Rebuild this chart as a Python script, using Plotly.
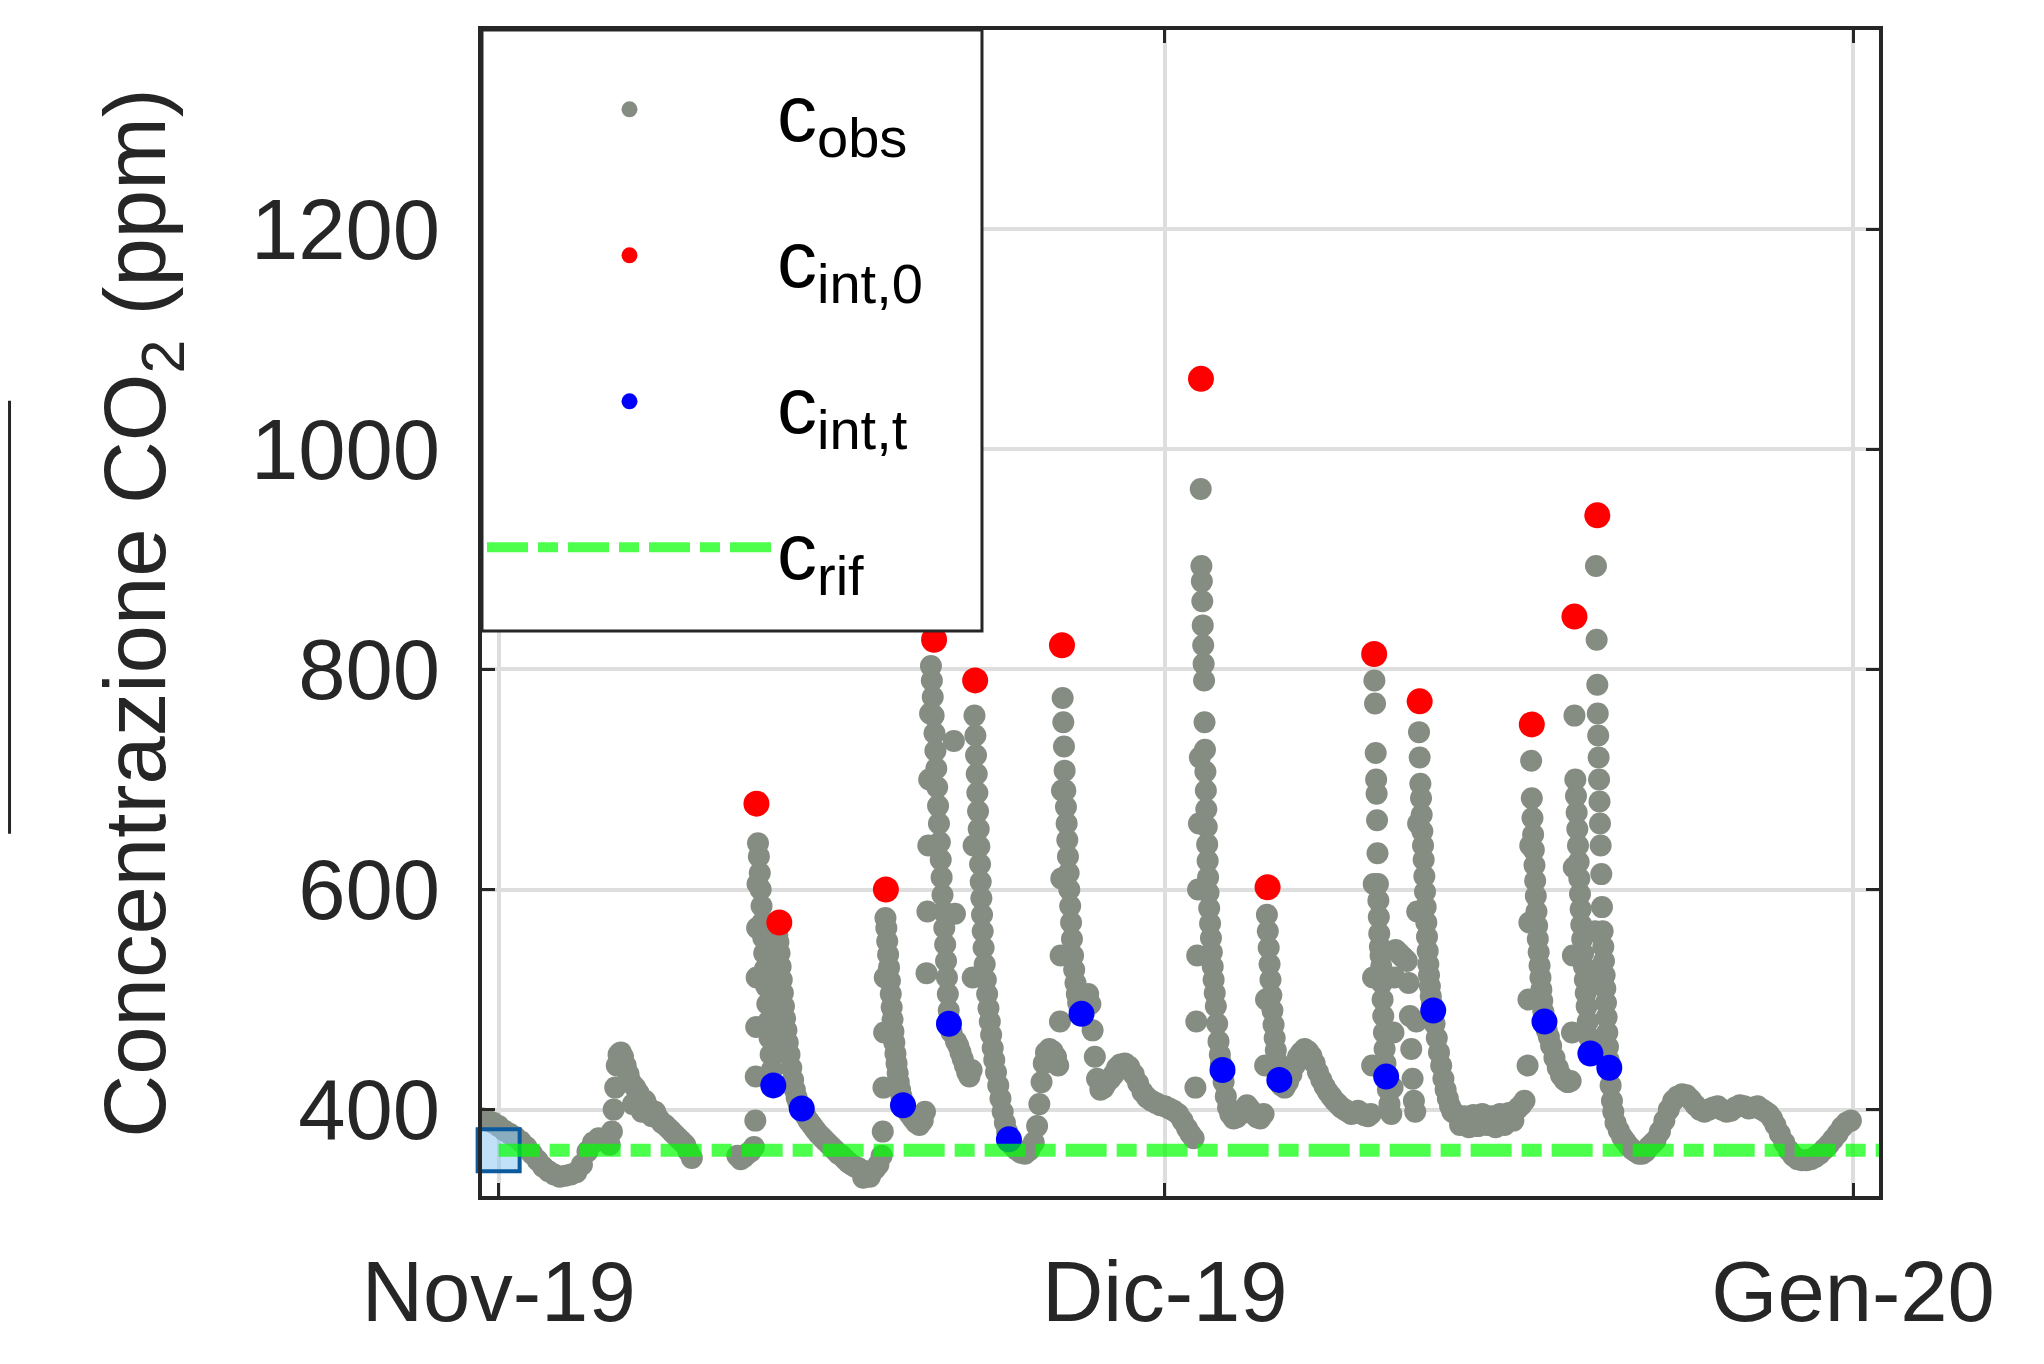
import pandas as pd
import plotly.graph_objects as go

# ---------------- data (days after 1 Nov 2019, ppm) ----------------
BASE_DATE = "2019-11-01"

obs_series = [
    (-0.7, 392), (-0.5, 390), (-0.25, 388), (0.0, 385), (0.25, 381), (0.5, 378), (0.75, 375), (1.0, 371),
    (1.25, 366), (1.5, 360), (1.75, 354), (2.0, 348), (2.25, 344), (2.5, 341), (2.75, 339), (3.0, 340),
    (3.25, 341), (3.5, 343), (3.75, 350), (4.0, 362), (4.25, 370), (4.5, 374), (4.75, 372), (5.0, 368),
    (5.1, 380), (5.18, 400), (5.25, 420), (5.32, 440), (5.4, 450), (5.5, 452), (5.6, 448), (5.72, 440),
    (5.85, 432), (5.95, 425), (6.05, 405), (6.15, 420), (6.3, 415), (6.45, 398), (6.6, 408), (6.75, 402),
    (6.9, 394), (7.05, 398), (7.2, 392), (7.35, 388), (7.5, 386), (7.65, 383), (7.8, 380), (7.95, 377),
    (8.1, 374), (8.25, 371), (8.4, 368), (8.55, 362), (8.7, 356),
    (10.75, 358), (10.9, 355), (11.05, 357), (11.2, 360), (11.35, 362), (11.5, 366),
    (11.56, 390), (11.58, 430), (11.6, 475), (11.62, 520), (11.64, 565), (11.66, 605), (11.68, 642),
    (11.72, 630), (11.76, 615), (11.8, 600), (11.84, 585), (11.88, 570), (11.92, 556), (11.96, 542),
    (12.0, 528), (12.05, 512), (12.1, 496), (12.15, 480), (12.2, 465), (12.25, 450), (12.3, 436), (12.36, 424),
    (12.42, 450), (12.46, 490), (12.5, 525), (12.55, 559), (12.6, 552), (12.65, 542), (12.7, 530), (12.75, 518),
    (12.8, 506), (12.85, 494), (12.9, 483), (12.96, 472), (13.02, 461), (13.1, 450), (13.18, 438), (13.26, 427),
    (13.34, 418), (13.42, 411), (13.5, 406), (13.58, 402), (13.66, 399),
    (13.8, 395), (13.95, 390), (14.1, 386), (14.25, 382), (14.4, 378), (14.55, 375), (14.7, 372), (14.85, 369),
    (15.0, 366), (15.15, 363), (15.3, 360), (15.45, 358), (15.6, 355), (15.75, 352), (15.9, 350), (16.05, 348),
    (16.2, 347), (16.35, 345), (16.42, 338), (16.5, 344), (16.65, 343), (16.72, 339), (16.8, 344), (16.95, 346),
    (17.1, 350), (17.25, 358),
    (17.3, 380), (17.33, 420), (17.36, 470), (17.39, 520), (17.42, 574), (17.46, 565), (17.5, 553), (17.54, 541),
    (17.58, 529), (17.62, 517), (17.66, 505), (17.7, 493), (17.74, 482), (17.78, 471), (17.82, 461), (17.87, 451),
    (17.92, 442), (17.97, 433), (18.02, 425), (18.08, 418), (18.14, 412), (18.2, 407), (18.25, 404),
    (18.35, 400), (18.5, 396), (18.65, 392), (18.8, 388), (18.95, 386), (19.1, 390), (19.2, 398),
    (19.27, 524), (19.31, 580), (19.35, 640), (19.39, 700), (19.43, 760), (19.47, 803), (19.51, 790), (19.55, 775),
    (19.59, 758), (19.63, 742), (19.67, 726), (19.71, 710), (19.75, 693), (19.79, 676), (19.83, 660), (19.87, 643),
    (19.91, 627), (19.95, 611), (19.99, 595), (20.03, 580), (20.07, 565), (20.11, 550), (20.15, 535), (20.19, 520),
    (20.23, 505), (20.27, 490), (20.31, 478),
    (20.4, 470), (20.5, 735), (20.55, 578), (20.6, 462), (20.7, 458), (20.8, 452), (20.9, 446), (21.0, 440),
    (21.1, 434), (21.2, 430), (21.3, 436),
    (21.35, 520), (21.39, 640), (21.43, 758), (21.47, 740), (21.5, 722), (21.53, 705), (21.56, 688), (21.59, 671),
    (21.62, 655), (21.65, 639), (21.68, 623), (21.71, 607), (21.74, 592), (21.77, 577), (21.8, 562), (21.84, 547),
    (21.89, 532), (21.94, 518), (22.0, 505), (22.06, 492), (22.12, 480), (22.18, 468), (22.25, 456), (22.32, 445),
    (22.4, 434), (22.5, 422), (22.6, 410), (22.7, 398), (22.8, 388), (22.9, 380), (22.98, 374),
    (23.1, 368), (23.3, 364), (23.5, 361), (23.7, 360), (23.9, 363), (24.1, 370), (24.25, 385), (24.35, 405),
    (24.45, 425), (24.55, 442), (24.65, 452), (24.8, 455), (24.95, 453), (25.1, 448), (25.2, 440),
    (25.28, 480), (25.31, 540), (25.34, 610), (25.37, 690), (25.4, 774), (25.43, 752), (25.46, 730), (25.49, 708),
    (25.52, 690), (25.55, 675), (25.58, 660), (25.61, 645), (25.64, 630), (25.67, 615), (25.7, 600), (25.74, 585),
    (25.78, 570), (25.82, 555), (25.87, 540), (25.92, 527), (25.98, 515), (26.04, 505), (26.1, 497), (26.17, 491),
    (26.25, 487),
    (26.35, 492), (26.45, 500), (26.55, 505), (26.65, 496), (26.75, 472), (26.85, 448), (26.95, 428), (27.1, 418),
    (27.25, 420), (27.4, 425), (27.55, 428), (27.7, 432), (27.85, 438), (28.0, 441), (28.2, 442), (28.4, 439),
    (28.6, 432), (28.8, 424), (29.0, 416), (29.2, 411), (29.4, 408), (29.6, 406), (29.8, 404), (30.0, 403),
    (30.2, 401), (30.4, 399), (30.6, 396), (30.8, 390), (31.0, 383), (31.15, 378), (31.3, 374),
    (31.38, 420), (31.42, 480), (31.46, 540), (31.5, 600), (31.54, 660), (31.58, 720), (31.62, 964), (31.65, 894),
    (31.67, 880), (31.69, 862), (31.71, 840), (31.73, 822), (31.75, 805), (31.77, 790), (31.79, 752), (31.81, 727),
    (31.83, 707), (31.85, 690), (31.87, 673), (31.89, 657), (31.91, 641), (31.93, 626), (31.95, 611), (31.97, 597),
    (32.0, 583), (32.04, 569), (32.08, 556), (32.12, 543), (32.16, 530), (32.2, 518), (32.25, 506), (32.3, 494),
    (32.36, 478), (32.42, 462), (32.48, 450), (32.53, 442), (32.57, 436),
    (32.65, 425), (32.75, 412), (32.85, 402), (32.95, 396), (33.1, 392), (33.25, 393), (33.4, 396), (33.55, 400),
    (33.7, 404), (33.85, 400), (34.0, 396), (34.15, 393), (34.3, 392), (34.45, 396),
    (34.52, 440), (34.56, 500), (34.6, 577), (34.64, 562), (34.68, 547), (34.72, 532), (34.76, 518), (34.8, 504),
    (34.85, 490), (34.9, 477), (34.95, 465), (35.0, 454), (35.05, 444), (35.1, 435), (35.16, 427),
    (35.25, 422), (35.4, 420), (35.55, 425), (35.7, 432), (35.85, 440), (36.0, 448), (36.15, 452), (36.3, 455),
    (36.45, 453), (36.6, 449), (36.75, 442), (36.9, 434), (37.05, 427), (37.2, 421), (37.35, 416), (37.5, 412),
    (37.65, 408), (37.8, 405), (37.95, 402), (38.1, 400), (38.25, 398), (38.4, 396), (38.55, 397), (38.7, 399),
    (38.85, 397), (39.0, 395), (39.15, 394), (39.28, 396),
    (39.34, 440), (39.38, 520), (39.41, 605), (39.44, 790), (39.47, 769), (39.5, 724), (39.52, 700), (39.54, 687),
    (39.56, 663), (39.58, 633), (39.6, 605), (39.62, 590), (39.64, 575), (39.66, 560), (39.69, 548), (39.72, 540),
    (39.75, 530), (39.78, 515), (39.81, 500), (39.84, 485), (39.87, 470), (39.9, 455), (39.94, 442), (39.98, 430),
    (40.05, 418), (40.12, 405), (40.2, 396), (40.26, 420), (40.3, 470), (40.34, 520), (40.4, 545), (40.5, 543),
    (40.6, 541), (40.7, 539), (40.8, 537), (40.9, 535), (40.98, 515), (41.04, 485), (41.1, 455), (41.16, 428),
    (41.22, 408), (41.28, 398),
    (41.33, 480), (41.37, 580), (41.41, 660), (41.45, 743), (41.48, 720), (41.51, 696), (41.54, 683), (41.57, 668),
    (41.6, 653), (41.63, 640), (41.66, 627), (41.69, 612), (41.72, 598), (41.75, 584), (41.78, 570), (41.81, 557),
    (41.84, 544), (41.87, 532), (41.9, 522), (41.94, 512), (41.98, 503), (42.03, 496), (42.08, 490),
    (42.15, 478), (42.25, 465), (42.35, 452), (42.45, 440), (42.55, 428), (42.65, 418), (42.75, 410), (42.85, 403),
    (42.95, 398), (43.1, 396), (43.3, 386), (43.5, 394), (43.7, 384), (43.9, 395), (44.1, 385), (44.3, 396),
    (44.5, 386), (44.7, 394), (44.9, 384), (45.1, 396), (45.3, 386), (45.5, 397), (45.7, 390), (45.9, 401),
    (46.05, 404), (46.2, 408),
    (46.34, 440), (46.38, 500), (46.42, 570), (46.46, 640), (46.5, 717), (46.53, 683), (46.56, 665), (46.59, 650),
    (46.62, 636), (46.65, 622), (46.68, 608), (46.71, 594), (46.74, 580), (46.77, 567), (46.8, 555), (46.84, 543),
    (46.88, 531), (46.92, 520), (46.96, 509), (47.0, 499), (47.05, 489), (47.1, 480),
    (47.2, 472), (47.3, 466), (47.4, 458), (47.55, 447), (47.7, 438), (47.85, 431), (48.0, 427), (48.15, 425),
    (48.28, 426),
    (48.34, 470), (48.38, 540), (48.42, 620), (48.45, 758), (48.49, 700), (48.52, 685), (48.55, 670), (48.58, 655),
    (48.61, 640), (48.64, 625), (48.67, 610), (48.7, 596), (48.73, 582), (48.76, 568), (48.8, 555), (48.84, 542),
    (48.88, 530), (48.92, 518), (48.96, 506), (49.0, 494), (49.05, 480), (49.1, 466), (49.17, 452),
    (49.25, 460), (49.32, 520), (49.38, 562), (49.42, 894), (49.45, 827), (49.48, 786), (49.5, 760), (49.52, 740),
    (49.54, 720), (49.56, 700), (49.58, 680), (49.6, 660), (49.63, 640), (49.66, 614), (49.69, 584), (49.72, 562),
    (49.75, 548), (49.78, 535), (49.81, 522), (49.84, 510), (49.87, 497), (49.9, 484), (49.93, 470), (49.96, 457),
    (49.99, 445), (50.02, 437),
    (50.08, 422), (50.14, 408), (50.2, 398), (50.3, 388), (50.45, 381), (50.6, 375), (50.75, 371), (50.9, 367),
    (51.05, 364), (51.2, 362), (51.35, 360), (51.5, 360), (51.65, 362), (51.8, 366), (51.95, 369), (52.1, 372),
    (52.3, 380), (52.5, 390), (52.7, 400), (52.9, 408), (53.1, 412), (53.3, 414), (53.5, 413), (53.7, 409),
    (53.9, 404), (54.1, 400), (54.3, 398), (54.5, 400), (54.7, 402), (54.9, 403), (55.1, 400), (55.3, 398),
    (55.5, 399), (55.7, 402), (55.9, 404), (56.1, 403), (56.3, 401), (56.5, 402), (56.7, 403), (56.9, 400),
    (57.05, 398), (57.2, 396), (57.35, 392), (57.5, 386), (57.7, 378), (57.9, 370), (58.1, 363), (58.3, 358),
    (58.5, 355), (58.7, 354), (58.9, 354), (59.1, 355), (59.3, 357), (59.5, 360), (59.7, 364), (59.9, 368),
    (60.1, 373), (60.3, 378), (60.5, 384), (60.7, 388), (60.9, 390),
]

int0_day = [11.61, 12.64, 17.44, 19.61, 21.46, 25.37, 31.63, 34.63, 39.43, 41.48, 46.53, 48.45, 49.48]
int0_ppm = [678, 570, 600, 827, 790, 822, 1064, 602, 814, 771, 750, 848, 940]

intt_day = [12.37, 13.65, 18.21, 20.28, 22.98, 26.25, 32.60, 35.16, 39.97, 42.09, 47.10, 49.17, 50.02]
intt_ppm = [422, 401, 404, 478, 373, 487, 436, 427, 430, 490, 480, 451, 438]

rif_day = [0.0, 62.2]
rif_ppm = [363, 363]

start_day = [0.0]
start_ppm = [363]

x_tick_dates = ["2019-11-01", "2019-12-01", "2020-01-01"]
x_tick_text = ["Nov-19", "Dic-19", "Gen-20"]
y_tick_vals = [400, 600, 800, 1000, 1200]

x_range = ["2019-10-31 06:00", "2020-01-02 04:00"]
y_range = [321.5, 1381]


def to_dates(days):
    base = pd.Timestamp(BASE_DATE)
    return [base + pd.Timedelta(days=float(d)) for d in days]


obs_day = [p[0] for p in obs_series]
obs_ppm = [p[1] for p in obs_series]

FONT = "Liberation Sans, Arial, sans-serif"
AX = "#262626"

fig = go.Figure()
fig.add_trace(go.Scatter(
    x=to_dates(obs_day), y=obs_ppm, mode="markers", name="c<sub>obs</sub>",
    marker=dict(size=22, color="#858d82", line=dict(width=0)),
    legendgroup="a"))
fig.add_trace(go.Scatter(
    x=to_dates(int0_day), y=int0_ppm, mode="markers", name="c<sub>int,0</sub>",
    marker=dict(size=26, color="#ff0000", line=dict(width=0)),
    legendgroup="b"))
fig.add_trace(go.Scatter(
    x=to_dates(intt_day), y=intt_ppm, mode="markers", name="c<sub>int,t</sub>",
    marker=dict(size=26, color="#0000ff", line=dict(width=0)),
    legendgroup="c"))
fig.add_trace(go.Scatter(
    x=to_dates(start_day), y=start_ppm, mode="markers", showlegend=False,
    marker=dict(symbol="square", size=42, color="rgba(140,200,240,0.55)",
                line=dict(color="#0b5a9e", width=4)),
    cliponaxis=False))
fig.add_trace(go.Scatter(
    x=to_dates(rif_day), y=rif_ppm, mode="lines", name="c<sub>rif</sub>",
    line=dict(color="rgba(0,255,0,0.7)", width=13, dash="41px,10px,20px,10px"),
    legendgroup="d"))

axis_common = dict(
    showline=True, linecolor=AX, linewidth=4, mirror="ticks",
    ticks="inside", ticklen=13, tickwidth=3, tickcolor=AX,
    showgrid=True, gridcolor="#dedede", gridwidth=4, zeroline=False,
    tickfont=dict(family=FONT, size=85, color=AX), automargin=False,
)

# page body adds an 8 px offset, margins compensate for it
fig.update_layout(
    width=2044, height=1364,
    margin=dict(l=474, r=173, t=22, b=176),
    paper_bgcolor="white", plot_bgcolor="white",
    font=dict(family=FONT, color=AX),
    showlegend=True,
    legend=dict(
        x=0, y=1, xanchor="left", yanchor="top",
        bgcolor="rgba(0,0,0,0)", borderwidth=0,
        font=dict(family=FONT, size=80, color="#000000"),
        itemwidth=285, traceorder="grouped", tracegroupgap=39,
        title=dict(text="\u00a0", font=dict(size=16)),
    ),
    xaxis=dict(
        axis_common, type="date", range=x_range,
        tickvals=x_tick_dates, ticktext=x_tick_text, ticklabelstandoff=19,
    ),
    yaxis=dict(
        axis_common, range=y_range, tickvals=y_tick_vals, ticklabelstandoff=21,
        title=dict(text="Concentrazione CO<sub>2</sub> (ppm)",
                   font=dict(family=FONT, size=87, color=AX), standoff=57),
    ),
)

# legend frame (white box over the data, as in the original)
fig.add_shape(type="rect", xref="paper", yref="paper", layer="above",
              x0=0, x1=0.3579, y0=0.4846, y1=1.0,
              line=dict(color=AX, width=3), fillcolor="white")

# fragment of the neighbouring panel's frame at the left edge
fig.add_shape(type="rect", xref="paper", yref="paper",
              x0=-0.40, x1=-0.3382, y0=0.312, y1=0.6807,
              line=dict(color=AX, width=3), fillcolor="rgba(0,0,0,0)")

fig.write_html("out.html")
